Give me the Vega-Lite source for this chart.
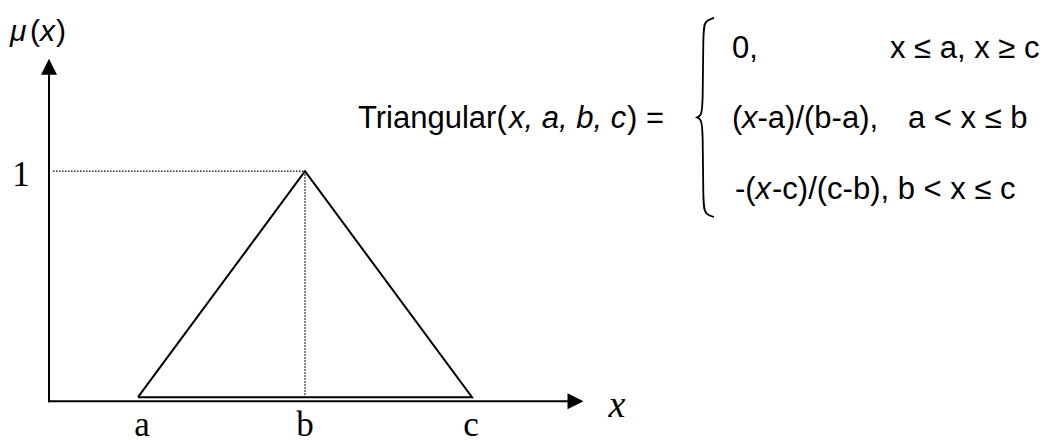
{
  "$schema": "https://vega.github.io/schema/vega-lite/v6.json",
  "width": 1056,
  "height": 443,
  "padding": 0,
  "autosize": {"type": "fit", "contains": "padding"},
  "background": "white",
  "config": {"view": {"stroke": null}},
  "datasets": {
    "axes": [
      {"x": 0.4671, "y": -0.0220, "x2": 0.4671, "y2": 1.4626},
      {"x": 0.4611, "y": -0.0176, "x2": 3.6198, "y2": -0.0176}
    ],
    "guides": [
      {"x": 0.4910, "y": 1, "x2": 2, "y2": 1},
      {"x": 2, "y": 1, "x2": 2, "y2": 0}
    ],
    "triangle": [
      {"i": 1, "x": 1, "y": 0},
      {"i": 2, "x": 2, "y": 1},
      {"i": 3, "x": 3, "y": 0},
      {"i": 4, "x": 1, "y": 0}
    ],
    "arrowUp": [{"x": 0.4671, "y": 1.4626}],
    "arrowRight": [{"x": 3.6198, "y": -0.0176}],
    "brace": [
      {"i": 1, "x": 4.4491, "y": 1.6784},
      {"i": 2, "x": 4.3952, "y": 1.6652},
      {"i": 3, "x": 4.3832, "y": 1.6256},
      {"i": 4, "x": 4.3832, "y": 1.2819},
      {"i": 5, "x": 4.3713, "y": 1.2467},
      {"i": 6, "x": 4.3473, "y": 1.2379},
      {"i": 7, "x": 4.3473, "y": 1.2379},
      {"i": 8, "x": 4.3473, "y": 1.2379},
      {"i": 9, "x": 4.3713, "y": 1.2291},
      {"i": 10, "x": 4.3832, "y": 1.1938},
      {"i": 11, "x": 4.3832, "y": 0.8502},
      {"i": 12, "x": 4.3952, "y": 0.8106},
      {"i": 13, "x": 4.4491, "y": 0.7974}
    ],
    "serifLabels": [
      {"t": "1", "x": 0.2994, "y": 0.9339},
      {"t": "a", "x": 1.0240, "y": -0.1718},
      {"t": "b", "x": 2.0, "y": -0.1718},
      {"t": "c", "x": 2.9940, "y": -0.1718}
    ],
    "serifItalic": [
      {"t": "x", "x": 3.8683, "y": -0.0881}
    ],
    "muUpright": [
      {"t": "(", "x": 0.3533, "y": 1.5771},
      {"t": ")", "x": 0.5090, "y": 1.5771}
    ],
    "muItalic": [
      {"t": "μ", "x": 0.2335, "y": 1.5771},
      {"t": "x", "x": 0.4132, "y": 1.5771}
    ],
    "formulaUpright": [
      {"t": "Triangular(", "x": 2.3174, "y": 1.1894},
      {"t": ") =", "x": 3.9281, "y": 1.1894},
      {"t": "0,", "x": 4.5569, "y": 1.5022},
      {"t": "x ≤ a, x ≥ c", "x": 5.5030, "y": 1.5022},
      {"t": "(", "x": 4.5569, "y": 1.1894},
      {"t": "-a)/(b-a),", "x": 4.7096, "y": 1.1894},
      {"t": "a < x ≤ b", "x": 5.6108, "y": 1.1894},
      {"t": "-(", "x": 4.5749, "y": 0.8767},
      {"t": "-c)/(c-b), b < x ≤ c", "x": 4.7964, "y": 0.8767}
    ],
    "formulaItalic": [
      {"t": "x, a, b, c", "x": 3.2216, "y": 1.1894},
      {"t": "x", "x": 4.6168, "y": 1.1894},
      {"t": "x", "x": 4.6976, "y": 0.8767}
    ]
  },
  "layer": [
    {
      "data": {"name": "axes"},
      "mark": {"type": "rule", "color": "black", "strokeWidth": 2, "strokeCap": "butt"},
      "encoding": {
        "x": {"field": "x", "type": "quantitative", "scale": {"domain": [0.17365, 6.49701], "nice": false, "zero": false}, "axis": null},
        "y": {"field": "y", "type": "quantitative", "scale": {"domain": [-0.19383, 1.75771], "nice": false, "zero": false}, "axis": null},
        "x2": {"field": "x2"},
        "y2": {"field": "y2"}
      }
    },
    {
      "data": {"name": "guides"},
      "mark": {"type": "rule", "color": "black", "strokeWidth": 1.3, "strokeDash": [1.5, 1.5], "strokeCap": "butt"},
      "encoding": {
        "x": {"field": "x", "type": "quantitative", "scale": {"domain": [0.17365, 6.49701], "nice": false, "zero": false}, "axis": null},
        "y": {"field": "y", "type": "quantitative", "scale": {"domain": [-0.19383, 1.75771], "nice": false, "zero": false}, "axis": null},
        "x2": {"field": "x2"},
        "y2": {"field": "y2"}
      }
    },
    {
      "data": {"name": "triangle"},
      "mark": {"type": "line", "color": "black", "strokeWidth": 2, "strokeJoin": "miter"},
      "encoding": {
        "x": {"field": "x", "type": "quantitative", "scale": {"domain": [0.17365, 6.49701], "nice": false, "zero": false}, "axis": null},
        "y": {"field": "y", "type": "quantitative", "scale": {"domain": [-0.19383, 1.75771], "nice": false, "zero": false}, "axis": null},
        "order": {"field": "i", "type": "quantitative"}
      }
    },
    {
      "data": {"name": "brace"},
      "mark": {"type": "line", "color": "black", "strokeWidth": 1.8, "interpolate": "basis"},
      "encoding": {
        "x": {"field": "x", "type": "quantitative", "scale": {"domain": [0.17365, 6.49701], "nice": false, "zero": false}, "axis": null},
        "y": {"field": "y", "type": "quantitative", "scale": {"domain": [-0.19383, 1.75771], "nice": false, "zero": false}, "axis": null},
        "order": {"field": "i", "type": "quantitative"}
      }
    },
    {
      "data": {"name": "arrowUp"},
      "mark": {"type": "point", "shape": "M-1,1L1,1L0,-1Z", "size": 256, "filled": true, "color": "black", "opacity": 1, "strokeWidth": 0},
      "encoding": {
        "x": {"field": "x", "type": "quantitative", "scale": {"domain": [0.17365, 6.49701], "nice": false, "zero": false}, "axis": null},
        "y": {"field": "y", "type": "quantitative", "scale": {"domain": [-0.19383, 1.75771], "nice": false, "zero": false}, "axis": null}
      }
    },
    {
      "data": {"name": "arrowRight"},
      "mark": {"type": "point", "shape": "M-1,-1L1,0L-1,1Z", "size": 256, "filled": true, "color": "black", "opacity": 1, "strokeWidth": 0},
      "encoding": {
        "x": {"field": "x", "type": "quantitative", "scale": {"domain": [0.17365, 6.49701], "nice": false, "zero": false}, "axis": null},
        "y": {"field": "y", "type": "quantitative", "scale": {"domain": [-0.19383, 1.75771], "nice": false, "zero": false}, "axis": null}
      }
    },
    {
      "data": {"name": "serifLabels"},
      "mark": {"type": "text", "font": "Liberation Serif", "fontSize": 35, "align": "center", "baseline": "alphabetic", "color": "black"},
      "encoding": {
        "x": {"field": "x", "type": "quantitative", "scale": {"domain": [0.17365, 6.49701], "nice": false, "zero": false}, "axis": null},
        "y": {"field": "y", "type": "quantitative", "scale": {"domain": [-0.19383, 1.75771], "nice": false, "zero": false}, "axis": null},
        "text": {"field": "t"}
      }
    },
    {
      "data": {"name": "serifItalic"},
      "mark": {"type": "text", "font": "Liberation Serif", "fontStyle": "italic", "fontSize": 38, "align": "center", "baseline": "alphabetic", "color": "black"},
      "encoding": {
        "x": {"field": "x", "type": "quantitative", "scale": {"domain": [0.17365, 6.49701], "nice": false, "zero": false}, "axis": null},
        "y": {"field": "y", "type": "quantitative", "scale": {"domain": [-0.19383, 1.75771], "nice": false, "zero": false}, "axis": null},
        "text": {"field": "t"}
      }
    },
    {
      "data": {"name": "muUpright"},
      "mark": {"type": "text", "font": "Liberation Sans", "fontSize": 30, "align": "left", "baseline": "alphabetic", "color": "black"},
      "encoding": {
        "x": {"field": "x", "type": "quantitative", "scale": {"domain": [0.17365, 6.49701], "nice": false, "zero": false}, "axis": null},
        "y": {"field": "y", "type": "quantitative", "scale": {"domain": [-0.19383, 1.75771], "nice": false, "zero": false}, "axis": null},
        "text": {"field": "t"}
      }
    },
    {
      "data": {"name": "muItalic"},
      "mark": {"type": "text", "font": "Liberation Sans", "fontStyle": "italic", "fontSize": 30, "align": "left", "baseline": "alphabetic", "color": "black"},
      "encoding": {
        "x": {"field": "x", "type": "quantitative", "scale": {"domain": [0.17365, 6.49701], "nice": false, "zero": false}, "axis": null},
        "y": {"field": "y", "type": "quantitative", "scale": {"domain": [-0.19383, 1.75771], "nice": false, "zero": false}, "axis": null},
        "text": {"field": "t"}
      }
    },
    {
      "data": {"name": "formulaUpright"},
      "mark": {"type": "text", "font": "Liberation Sans", "fontSize": 31, "align": "left", "baseline": "alphabetic", "color": "black"},
      "encoding": {
        "x": {"field": "x", "type": "quantitative", "scale": {"domain": [0.17365, 6.49701], "nice": false, "zero": false}, "axis": null},
        "y": {"field": "y", "type": "quantitative", "scale": {"domain": [-0.19383, 1.75771], "nice": false, "zero": false}, "axis": null},
        "text": {"field": "t"}
      }
    },
    {
      "data": {"name": "formulaItalic"},
      "mark": {"type": "text", "font": "Liberation Sans", "fontStyle": "italic", "fontSize": 31, "align": "left", "baseline": "alphabetic", "color": "black"},
      "encoding": {
        "x": {"field": "x", "type": "quantitative", "scale": {"domain": [0.17365, 6.49701], "nice": false, "zero": false}, "axis": null},
        "y": {"field": "y", "type": "quantitative", "scale": {"domain": [-0.19383, 1.75771], "nice": false, "zero": false}, "axis": null},
        "text": {"field": "t"}
      }
    }
  ]
}
